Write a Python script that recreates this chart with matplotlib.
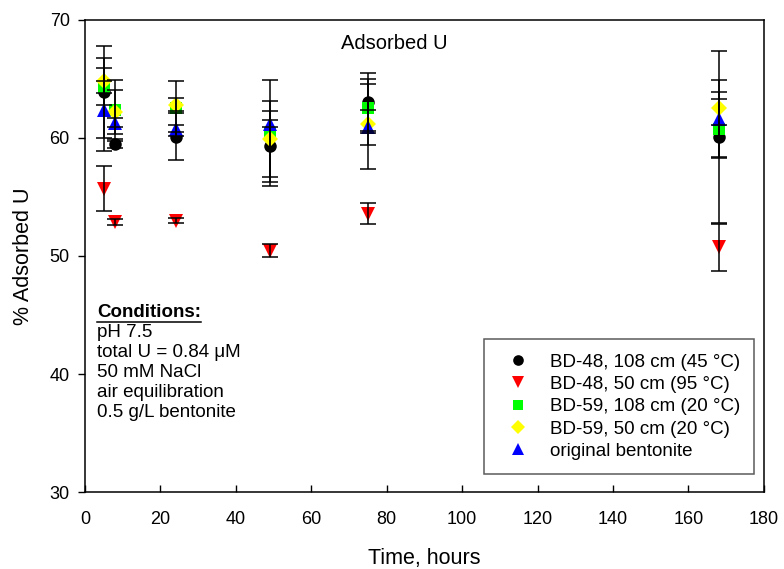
import numpy as np
import matplotlib
matplotlib.use("Agg")
import matplotlib.pyplot as plt

plt.rcParams['font.family'] = ['Liberation Sans', 'DejaVu Sans']

# time points (hours)
hours = [5, 8, 24, 49, 75, 168]

# series values and error bars
bd48_108 = [63.9, 59.45, 60.1, 59.3, 63.05, 60.1]
bd48_108_err = [3.9, 0.3, 2.0, 3.0, 2.45, 7.3]
bd48_50 = [55.7, 52.9, 53.0, 50.45, 53.6, 50.75]
bd48_50_err = [1.9, 0.25, 0.2, 0.55, 0.85, 2.0]
bd59_108 = [64.3, 62.4, 62.5, 60.4, 62.5, 60.8]
bd59_108_err = [0.5, 2.5, 2.3, 4.5, 2.1, 2.5]
bd59_50 = [64.8, 62.2, 62.8, 59.9, 61.2, 62.5]
bd59_50_err = [2.0, 1.9, 0.55, 3.2, 3.8, 1.4]
original = [62.4, 61.3, 60.8, 61.2, 60.9, 61.65]
original_err = [3.5, 0.4, 0.3, 0.3, 1.5, 3.3]

series = [
    ("BD-48, 108 cm (45 \u00b0C)", bd48_108, bd48_108_err, 'o', 'black'),
    ("BD-48, 50 cm (95 \u00b0C)", bd48_50, bd48_50_err, 'v', '#ff0000'),
    ("BD-59, 108 cm (20 \u00b0C)", bd59_108, bd59_108_err, 's', '#00ff00'),
    ("BD-59, 50 cm (20 \u00b0C)", bd59_50, bd59_50_err, 'D', '#ffff00'),
    ("original bentonite", original, original_err, '^', '#0000ff'),
]

fig = plt.figure(figsize=(7.84, 5.69), dpi=100)
ax = fig.add_axes([0.1084, 0.1353, 0.866, 0.8296])

for label, vals, errs, mk, col in series:
    ms = {'o': 9, 'v': 9.5, 's': 8.5, 'D': 8, '^': 9.5}[mk]
    ax.plot(hours, vals, linestyle='none', marker=mk, color=col,
            markersize=ms, markeredgewidth=0, label=label, zorder=3)
    ax.errorbar(hours, vals, yerr=errs, fmt='none', ecolor='black',
                elinewidth=1.1, capsize=5.5, capthick=1.1, zorder=4)

ax.set_xlim(0, 180)
ax.set_ylim(30, 70)
ax.set_xticks(np.arange(0, 181, 20))
ax.set_yticks(np.arange(30, 71, 10))
ax.tick_params(axis='x', direction='in', length=5, width=1, labelsize=13, pad=14)
ax.tick_params(axis='y', direction='out', length=5, width=1, labelsize=13, pad=6)
for s in ax.spines.values():
    s.set_linewidth(1.1)

ax.set_xlabel("Time, hours", fontsize=15.5, labelpad=14)
ax.set_ylabel("% Adsorbed U", fontsize=15.5, labelpad=11)
ax.text(0.456, 0.95, "Adsorbed U", transform=ax.transAxes, ha='center',
        va='center', fontsize=14.5)

leg = ax.legend(loc='lower right', bbox_to_anchor=(0.9855, 0.038), fontsize=13.5,
                frameon=True, fancybox=False, edgecolor='#333333',
                handletextpad=0.65, borderpad=0.75, labelspacing=0.28,
                handlelength=2.1, borderaxespad=0, markerscale=0.85)
leg.get_frame().set_linewidth(1.1)

# conditions block
cond_lines = ["pH 7.5", "total U = 0.84 \u03bcM", "50 mM NaCl",
              "air equilibration", "0.5 g/L bentonite"]
t = ax.text(0.0177, 0.371, "Conditions:", transform=ax.transAxes,
            fontsize=13.5, fontweight='bold', va='baseline')
for i, line in enumerate(cond_lines):
    ax.text(0.0177, 0.371 - 0.0424 * (i + 1), line, transform=ax.transAxes,
            fontsize=13.5, va='baseline')

fig.canvas.draw()
bb = t.get_window_extent().transformed(ax.transAxes.inverted())
ax.plot([bb.x0, bb.x1], [bb.y0 - 0.002, bb.y0 - 0.002],
        transform=ax.transAxes, color='black', linewidth=1.1)

fig.savefig("out.png", dpi=100)
